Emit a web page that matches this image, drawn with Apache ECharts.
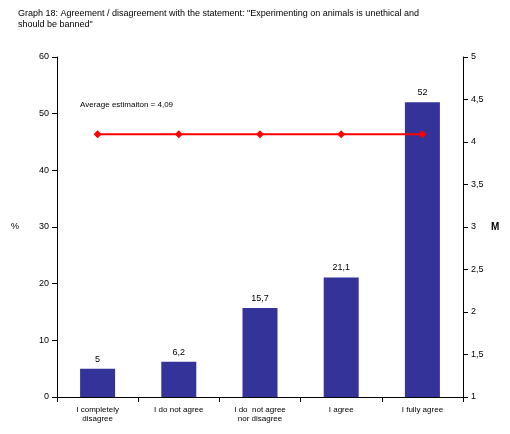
<!DOCTYPE html>
<html><head><meta charset="utf-8">
<script src="https://cdn.jsdelivr.net/npm/echarts@6/dist/echarts.min.js"></script>
<style>html,body{margin:0;padding:0;background:#fff}#c{width:510px;height:434px}</style>
</head><body><div id="c"></div>
<script>
var categories = ['I completely\ndisagree', 'I do not agree', 'I do  not agree\nnor disagree', 'I agree', 'I fully agree'];
var percents = [5, 6.2, 15.7, 21.1, 52];
var average = [4.09, 4.09, 4.09, 4.09, 4.09];

var comma = function (v) { return String(v).replace('.', ','); };
var myChart = echarts.init(document.getElementById('c'));
var option = {
  animation: false,
  textStyle: { fontFamily: 'Arial, Liberation Sans, sans-serif' },
  title: {
    text: 'Graph 18: Agreement / disagreement with the statement: "Experimenting on animals is unethical and\nshould be banned"',
    left: 13, top: 3,
    textStyle: { fontSize: 9, fontWeight: 'normal', color: '#000', lineHeight: 11 }
  },
  grid: { left: 57, right: 47, top: 57, bottom: 37 },
  xAxis: {
    type: 'category', data: categories,
    axisLine: { lineStyle: { color: '#000' } },
    axisTick: { show: true, alignWithLabel: false, lineStyle: { color: '#000' } },
    axisLabel: { color: '#000', fontSize: 8, interval: 0, lineHeight: 9 }
  },
  yAxis: [
    {
      type: 'value', min: 0, max: 60, interval: 10, name: '%', nameLocation: 'middle', nameGap: 38, nameRotate: 0,
      nameTextStyle: { color: '#000', fontSize: 9 },
      axisLine: { show: true, lineStyle: { color: '#000' } },
      axisTick: { show: true, lineStyle: { color: '#000' } },
      axisLabel: { color: '#000', fontSize: 9 },
      splitLine: { show: false }
    },
    {
      type: 'value', min: 1, max: 5, interval: 0.5, name: 'M', nameLocation: 'middle', nameGap: 28, nameRotate: 0,
      nameTextStyle: { color: '#000', fontSize: 10, fontWeight: 'bold' },
      axisLine: { show: true, lineStyle: { color: '#000' } },
      axisTick: { show: true, lineStyle: { color: '#000' } },
      axisLabel: { color: '#000', fontSize: 9, formatter: comma },
      splitLine: { show: false }
    }
  ],
  series: [
    {
      type: 'bar', data: percents, barWidth: 35, yAxisIndex: 0,
      itemStyle: { color: '#333399' },
      label: { show: true, position: 'top', color: '#000', fontSize: 9, formatter: function (p) { return comma(p.value); } }
    },
    {
      type: 'line', data: average, yAxisIndex: 1,
      symbol: 'diamond', symbolSize: 8,
      lineStyle: { color: '#ff0000', width: 2 },
      itemStyle: { color: '#ff0000' }
    }
  ],
  graphic: [{
    type: 'text', left: 80, top: 101,
    style: { text: 'Average estimaiton = 4,09', fontSize: 8, fill: '#000', fontFamily: 'Arial, Liberation Sans, sans-serif' }
  }]
};
myChart.setOption(option);
</script></body></html>
